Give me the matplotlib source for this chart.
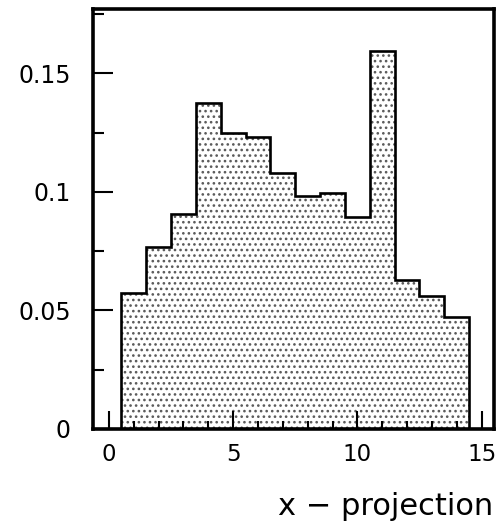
import matplotlib
matplotlib.use("Agg")
import matplotlib.pyplot as plt
import numpy as np
from matplotlib.ticker import MultipleLocator, FixedLocator

# Histogram of the x projection: unit-width bins centred on 1..14
bin_edges = [0.5, 1.5, 2.5, 3.5, 4.5, 5.5, 6.5, 7.5, 8.5, 9.5, 10.5, 11.5, 12.5, 13.5, 14.5]
bin_values = [0.0575, 0.0769, 0.0907, 0.1374, 0.1247, 0.1233, 0.1078,
              0.0984, 0.0997, 0.0893, 0.1596, 0.0628, 0.0562, 0.0474]
x_major = [0, 5, 10, 15]
y_major = [0, 0.05, 0.1, 0.15]
y_labels = ["0", "0.05", "0.1", "0.15"]
x_title = "x \u2212 projection"

plt.rcParams["font.family"] = ["DejaVu Sans"]
plt.rcParams["hatch.linewidth"] = 1.1

fig = plt.figure(figsize=(5.0, 5.25), dpi=100)
ax = fig.add_axes([0.186, 0.1829, 0.802, 0.7994])

# dotted fill, then the black step outline on top
ax.stairs(bin_values, bin_edges, baseline=0, fill=True, facecolor="white",
          edgecolor="#5a5a5a", hatch="...", linewidth=0)
ax.stairs(bin_values, bin_edges, baseline=0, fill=False, color="black",
          linewidth=1.9)

ax.set_xlim(-0.64, 15.5)
ax.set_ylim(0, 0.177)

for s in ax.spines.values():
    s.set_linewidth(2.6)
    s.set_color("black")

ax.xaxis.set_major_locator(FixedLocator(x_major))
ax.xaxis.set_minor_locator(MultipleLocator(1))
ax.yaxis.set_major_locator(FixedLocator(y_major))
ax.yaxis.set_minor_locator(MultipleLocator(0.025))
ax.set_yticklabels(y_labels)

ax.tick_params(axis="both", which="both", direction="in", top=False, right=False,
               width=1.5, colors="black")
ax.tick_params(axis="x", which="major", length=13, pad=10, labelsize=16.5)
ax.tick_params(axis="x", which="minor", length=6)
ax.tick_params(axis="y", which="major", length=14.5, pad=16, labelsize=17)
ax.tick_params(axis="y", which="minor", length=8)

fig.text(0.986, 0.019, x_title, ha="right", va="baseline", fontsize=22)

fig.savefig("out.png", dpi=100)
